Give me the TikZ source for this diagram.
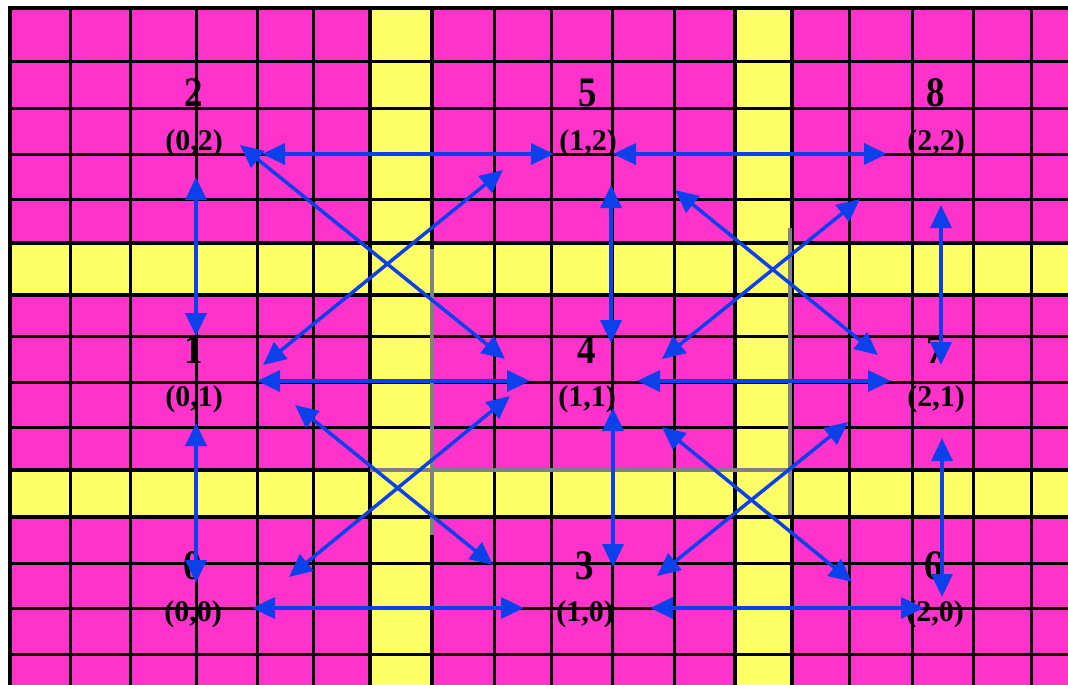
\documentclass[tikz,border=0pt]{standalone}
\usepackage{fontspec}
\setmainfont{Liberation Serif}
\usetikzlibrary{arrows.meta}
\definecolor{mag}{RGB}{255,51,204}
\definecolor{yel}{RGB}{255,255,102}
\definecolor{arrblue}{RGB}{12,64,235}
\definecolor{grl}{RGB}{128,128,128}
\tikzset{
  gridline/.style={draw=black, line width=3pt},
  bandline/.style={draw=black, line width=3.8pt},
  grayline/.style={draw=grl, line width=3.2pt},
  numlbl/.style={anchor=base, inner sep=0pt, font=\fontsize{42}{42}\selectfont\bfseries},
  crdlbl/.style={anchor=base, inner sep=0pt, font=\fontsize{30}{30}\selectfont\bfseries},
  arr/.style={draw=arrblue, line width=3.5pt,
    {Triangle[length=23pt,width=21pt]}-{Triangle[length=23pt,width=21pt]}}
}
\begin{document}
\begin{tikzpicture}[x=1pt,y=-1pt]
\useasboundingbox (0,0) rectangle (1068,685);
\fill[white] (0,0) rectangle (1068,685);
% background cells
\fill[mag] (10,8) rectangle (1068,685);
\fill[yel] (370,8) rectangle (432,685);
\fill[yel] (735,8) rectangle (792,685);
\fill[yel] (10,243) rectangle (1068,295);
\fill[yel] (10,470) rectangle (1068,517);
% grid
\foreach \x in {70,130,196,257,313,494,551,612,674,849,912,973,1031}
  \draw[gridline] (\x,8) -- (\x,685);
\foreach \y in {62,108,154,199,336,382,427,563,608,654}
  \draw[gridline] (10,\y) -- (1068,\y);
\foreach \x in {10,370,432,735,792}
  \draw[bandline] (\x,8) -- (\x,685);
\foreach \y in {8,243,295,470,517}
  \draw[bandline] (8.1,\y) -- (1068,\y);
% gray frame lines
\draw[grayline] (432,249) -- (432,535);
\draw[grayline] (790,228) -- (790,515);
\draw[grayline] (370,470) -- (790,470);
% labels
\node[numlbl] (n2) at (194,106) {\scalebox{0.88}[1]{2}};
\node[crdlbl] (c2) at (194,150) {(0,2)};
\node[numlbl] (n5) at (588,106) {\scalebox{0.88}[1]{5}};
\node[crdlbl] (c5) at (588,150) {(1,2)};
\node[numlbl] (n8) at (936,106) {\scalebox{0.88}[1]{8}};
\node[crdlbl] (c8) at (936,150) {(2,2)};
\node[numlbl] (n1) at (194,363) {\scalebox{0.88}[1]{1}};
\node[crdlbl] (c1) at (194,406) {(0,1)};
\node[numlbl] (n4) at (587,363) {\scalebox{0.88}[1]{4}};
\node[crdlbl] (c4) at (587,406) {(1,1)};
\node[numlbl] (n7) at (936,363) {\scalebox{0.88}[1]{7}};
\node[crdlbl] (c7) at (936,406) {(2,1)};
\node[numlbl] (n0) at (193,579) {\scalebox{0.88}[1]{0}};
\node[crdlbl] (c0) at (193,621) {(0,0)};
\node[numlbl] (n3) at (585,579) {\scalebox{0.88}[1]{3}};
\node[crdlbl] (c3) at (585,621) {(1,0)};
\node[numlbl] (n6) at (934,579) {\scalebox{0.88}[1]{6}};
\node[crdlbl] (c6) at (935,621) {(2,0)};
% arrow end points
\coordinate (h1a) at (262,154); \coordinate (h1b) at (554,154);
\coordinate (h2a) at (613,154); \coordinate (h2b) at (887,154);
\coordinate (h3a) at (257,381); \coordinate (h3b) at (530,381);
\coordinate (h4a) at (637,381); \coordinate (h4b) at (891,381);
\coordinate (h5a) at (252,608); \coordinate (h5b) at (524,608);
\coordinate (h6a) at (650,608); \coordinate (h6b) at (924,608);
\coordinate (v1a) at (196,177); \coordinate (v1b) at (196,336);
\coordinate (v2a) at (196,423); \coordinate (v2b) at (196,583);
\coordinate (v3a) at (611,185); \coordinate (v3b) at (611,343);
\coordinate (v4a) at (613,408); \coordinate (v4b) at (613,567);
\coordinate (v5a) at (941,205); \coordinate (v5b) at (941,365);
\coordinate (v6a) at (942,438); \coordinate (v6b) at (942,597);
\coordinate (d1a) at (240,145); \coordinate (d1b) at (505,359);
\coordinate (d2a) at (263,365); \coordinate (d2b) at (503,170);
\coordinate (d3a) at (295,405); \coordinate (d3b) at (493,565);
\coordinate (d4a) at (289,577); \coordinate (d4b) at (510,396);
\coordinate (d5a) at (675,190); \coordinate (d5b) at (878,355);
\coordinate (d6a) at (662,359); \coordinate (d6b) at (860,199);
\coordinate (d7a) at (662,427); \coordinate (d7b) at (852,582);
\coordinate (d8a) at (657,576); \coordinate (d8b) at (848,422);
% arrows
\foreach \p in {h1,h2,h3,h4,h5,h6,v1,v2,v3,v4,v5,v6,d1,d2,d3,d4,d5,d6,d7,d8}
  \draw[arr] (\p a) -- (\p b);
\end{tikzpicture}
\end{document}
